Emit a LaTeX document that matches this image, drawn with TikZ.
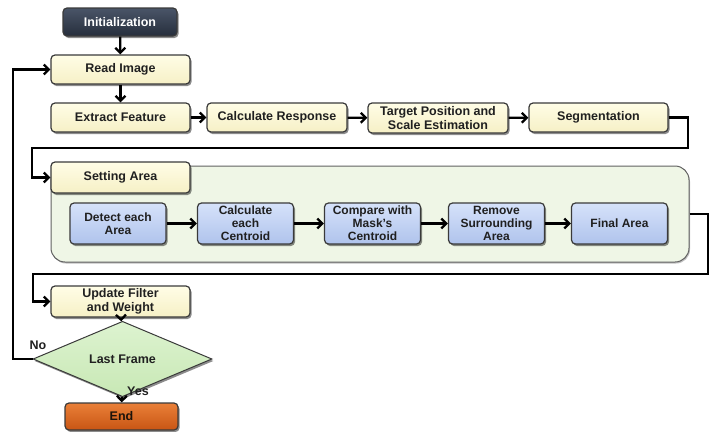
\documentclass[tikz,border=0pt]{standalone}
\usepackage{fontspec}
\setmainfont{Liberation Sans}
\usetikzlibrary{arrows.meta,shapes.geometric,shadows}
\definecolor{boxline}{HTML}{3A3A3A}
\definecolor{creamT}{HTML}{FFFDE6}
\definecolor{creamB}{HTML}{F6F0C6}
\definecolor{blueT}{HTML}{D6E2FA}
\definecolor{blueB}{HTML}{AFC3EC}
\definecolor{contfill}{HTML}{EFF6E6}
\definecolor{diaT}{HTML}{DDF3D0}
\definecolor{diaB}{HTML}{C8E8B5}
\definecolor{navyT}{HTML}{4A5568}
\definecolor{navyB}{HTML}{262E3C}
\definecolor{orangeT}{HTML}{EA8038}
\definecolor{orangeB}{HTML}{C85514}
\definecolor{txt}{HTML}{202020}
\begin{document}
\begin{tikzpicture}[x=1pt,y=-1pt,
  shad/.style={drop shadow={shadow xshift=1.5pt,shadow yshift=-2pt,fill=black,opacity=0.45}},
  box/.style={draw=boxline,line width=1.2pt,rounded corners=4pt,align=center,inner sep=0pt,
    text=txt,font=\bfseries\fontsize{12.5}{14}\selectfont,shad},
  cream/.style={box,top color=creamT,bottom color=creamB,minimum width=139pt,minimum height=29pt},
  bluebox/.style={box,top color=blueT,bottom color=blueB,minimum width=96pt,minimum height=41pt,
    font=\bfseries\fontsize{12}{13}\selectfont},
  arr/.style={line width=2.3pt,-{Straight Barb[length=5pt,width=10pt]}},
  lbl/.style={font=\bfseries\fontsize{12.5}{14}\selectfont,text=txt,inner sep=0pt}]
\useasboundingbox (0,0) rectangle (717,431);
% container
\node[draw=boxline!80,line width=1pt,fill=contfill,rounded corners=14pt,
  minimum width=638pt,minimum height=96pt,inner sep=0pt,
  drop shadow={shadow xshift=1pt,shadow yshift=-1.5pt,fill=black,opacity=0.25}]
  (cont) at (370,214) {};
\node[box,top color=navyT,bottom color=navyB,text=white,minimum width=114pt,minimum height=28pt] (init) at (120,22) {Initialization};
\node[cream] (read) at (120.5,69.5) {Read Image};
\node[cream] (extract) at (120.5,117.5) {Extract Feature};
\node[cream,minimum width=140pt] (calc) at (277,117.5) {Calculate Response};
\node[cream,minimum width=140pt,minimum height=30pt] (target) at (438,118) {Target Position and\\Scale Estimation};
\node[cream] (seg) at (598.5,117.5) {Segmentation};
\node[cream,minimum height=31pt] (set) at (120.5,177.5) {Setting Area};
\node[bluebox] (detect) at (118,223.5) {Detect each\\Area};
\node[bluebox] (cent) at (245.5,223.5) {Calculate\\each\\Centroid};
\node[bluebox] (comp) at (372.5,223.5) {Compare with\\Mask's\\Centroid};
\node[bluebox] (remove) at (496.5,223.5) {Remove\\Surrounding\\Area};
\node[bluebox] (final) at (619.5,223.5) {Final Area};
\node[cream,minimum height=31pt] (update) at (120.5,301.5) {Update Filter\\and Weight};
\node[diamond,draw=boxline,line width=1pt,top color=diaT,bottom color=diaB,
  minimum width=179pt,minimum height=48pt,inner sep=0pt,text=txt,
  font=\bfseries\fontsize{12.5}{14}\selectfont,shad] (last) at (122.5,359) {Last Frame};
\node[box,top color=orangeT,bottom color=orangeB,text=black!85!brown,minimum width=113pt,minimum height=27pt] (end) at (121.5,416.5) {End};
% coordinates
\coordinate (s1) at (688,117.5);
\coordinate (s2) at (688,148);
\coordinate (s3) at (32,148);
\coordinate (s4) at (32,177.5);
\coordinate (c1) at (708,214);
\coordinate (c2) at (708,274);
\coordinate (c3) at (33,274);
\coordinate (c4) at (33,301.5);
\coordinate (n1) at (13,359);
\coordinate (n2) at (13,69.5);
% connectors
\draw[arr] (init) -- (read);
\draw[arr] (read) -- (extract);
\draw[arr] (extract) -- (calc);
\draw[arr] (calc) -- (target);
\draw[arr] (target) -- (seg);
\draw[arr] (seg.east) -- (s1) -- (s2) -- (s3) -- (s4) -- (set.west);
\draw[arr] (detect) -- (cent);
\draw[arr] (cent) -- (comp);
\draw[arr] (comp) -- (remove);
\draw[arr] (remove) -- (final);
\draw[arr] (cont.east) -- (c1) -- (c2) -- (c3) -- (c4) -- (update.west);
\draw[arr] (update) -- (last);
\draw[arr] (last) -- (end);
\draw[arr] (last.west) -- (n1) -- (n2) -- (read.west);
\node[lbl] (no) at (38,345) {No};
\node[lbl,anchor=west] (yes) at (127,391) {Yes};
\end{tikzpicture}
\end{document}
